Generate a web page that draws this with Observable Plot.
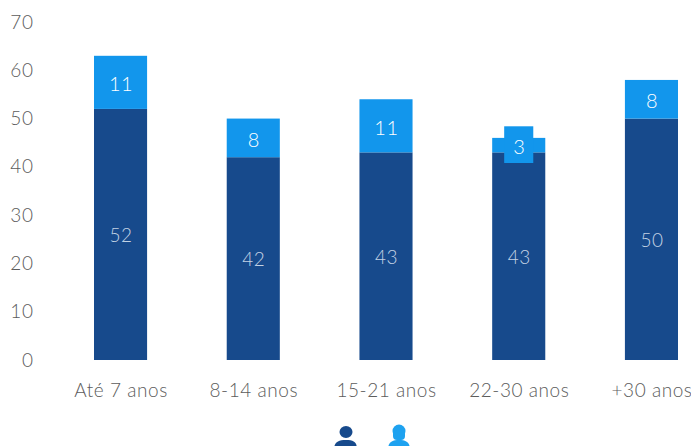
<!DOCTYPE html>
<html><head><meta charset="utf-8">
<script src="https://cdn.jsdelivr.net/npm/d3@7"></script>
<script src="https://cdn.jsdelivr.net/npm/@observablehq/plot@0.6"></script>
<style>
html,body{margin:0;padding:0;background:#fff;overflow:hidden;width:691px;height:446px}
#legend{position:absolute;left:0;top:420px;width:691px;height:26px;overflow:hidden}
</style></head><body>
<div id="chart"></div>
<svg id="legend" width="691" height="26" role="img" aria-label="Homens e mulheres">
  <g fill="#174a8c"><ellipse cx="346" cy="12" rx="6.5" ry="6"/><path d="M334 30c0-7 3-10 12-10s11 3 11 10z"/></g>
  <g fill="#1ea2f0"><ellipse cx="399" cy="11" rx="6.5" ry="6.5"/><path d="M388 30c0-7 3-10 11-10s11 3 11 10z"/><rect x="393" y="10" width="12" height="10" rx="4"/></g>
</svg>
<script>
const categories = ["Até 7 anos", "8-14 anos", "15-21 anos", "22-30 anos", "+30 anos"];
const men = [52, 42, 43, 43, 50];
const women = [11, 8, 11, 3, 8];
const yTicks = [0, 10, 20, 30, 40, 50, 60, 70];
const calloutCategory = ["22-30 anos"];
const calloutLow = [40.8];
const calloutHigh = [48.4];

const dark = "#174a8c", light = "#1296ec", axisInk = "#5c5c5c";
const rows = categories.flatMap((c, i) => [
  {c, s: "men", v: men[i]},
  {c, s: "women", v: women[i]}
]);
const menRows = rows.filter(d => d.s === "men");
const womenRows = rows.filter(d => d.s === "women");
const stackOpts = {x: "c", y: "v", order: ["men", "women"], z: "s"};
const callout = calloutCategory.map((c, i) => ({c, y1: calloutLow[i], y2: calloutHigh[i]}));

const fontFamily = "Lato, 'Open Sans', sans-serif";
const plot = Plot.plot({
  width: 691, height: 420,
  marginLeft: 94, marginRight: 13, marginTop: 22, marginBottom: 60,
  style: {fontFamily, background: "transparent", letterSpacing: "0.55px"},
  x: {domain: categories, padding: 0.6, paddingOuter: 0, round: false, label: null},
  y: {domain: [0, 70], label: null},
  marks: [
    Plot.barY(rows, Plot.stackY({...stackOpts, fill: d => d.s === "men" ? dark : light})),
    Plot.rectY(callout, {x: "c", y1: "y1", y2: "y2", fill: light, insetLeft: 12, insetRight: 12}),
    Plot.text(menRows, Plot.stackY({...stackOpts, text: "v", fill: "#c3d2e4", fontSize: 19, fontWeight: 300, dy: 1})),
    Plot.text(womenRows.map(d => ({...d, base: men[categories.indexOf(d.c)]})), {
      x: "c", y: d => d.base + d.v / 2, text: "v", fill: "#fff", fontSize: 20, fontWeight: 300, dy: 2
    }),
    Plot.axisY({ticks: yTicks, tickSize: 0, tickPadding: 61, fontSize: 19, fontWeight: 300, color: axisInk, label: null}),
    Plot.axisX({tickSize: 0, tickPadding: 23, fontSize: 19, fontWeight: 300, color: axisInk, label: null})
  ]
});
document.getElementById("chart").append(plot);
</script></body></html>
